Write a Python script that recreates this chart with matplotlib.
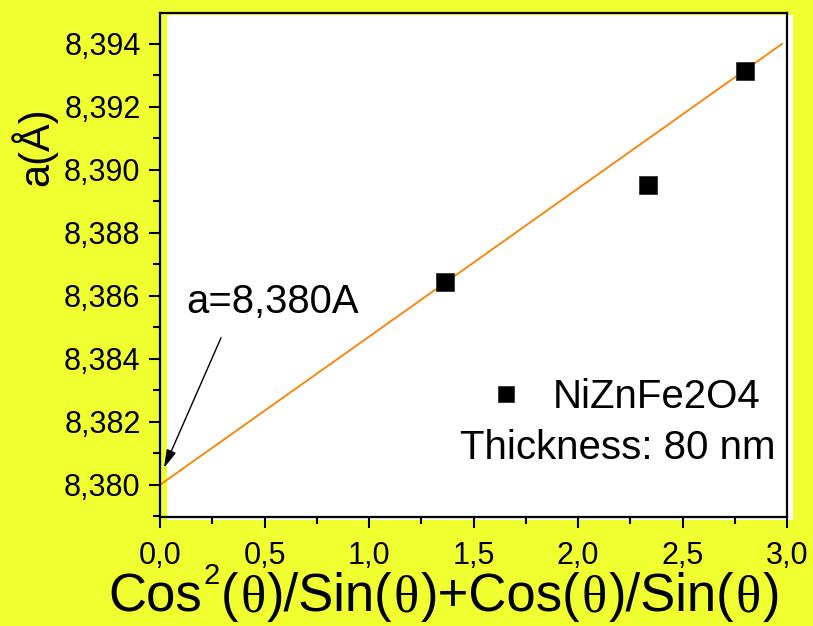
import matplotlib
matplotlib.use("Agg")
import matplotlib.pyplot as plt
from matplotlib.ticker import MultipleLocator, FuncFormatter
from matplotlib.patches import Rectangle

# ---- data ----
x_pts = [1.364, 2.335, 2.799]
a_pts = [8.38644, 8.38952, 8.39314]
fit_x = [0.0, 2.976]
fit_intercept = 8.3800
fit_slope = 0.004704
fit_y = [fit_intercept + fit_slope * v for v in fit_x]

series_label = "NiZnFe2O4"
note_label = "Thickness: 80 nm"
annot_label = "a=8,380A"
arrow_head = (0.019, 8.38054)
arrow_tail = (0.292, 8.38467)
annot_pos = (0.124, 8.38546)

xlim = (0.0, 3.0)
ylim = (8.37898, 8.39498)

# x-axis title pieces: (text, is_serif_symbol, is_superscript)
xlabel_pieces = [("Cos", False, False), ("2", False, True), ("(", False, False),
                 ("θ", True, False), (")/Sin(", False, False), ("θ", True, False),
                 (")+Cos(", False, False), ("θ", True, False), (")/Sin(", False, False),
                 ("θ", True, False), (")", False, False)]

plt.rcParams['font.family'] = ['Liberation Sans', 'DejaVu Sans']

W, H = 813, 626
bg = '#F0FF30'
fig = plt.figure(figsize=(W/100, H/100), dpi=100, facecolor=bg)
L, R, B, T = 160/W, 787/W, 1-517/H, 1-13/H
# offset white plot area (as in Origin export)
fig.patches.append(Rectangle((167/W, 1-520/H), (793-167)/W, (520-15)/H,
                             transform=fig.transFigure, facecolor='white',
                             edgecolor='none', zorder=-5))
ax = fig.add_axes([L, B, R-L, T-B])
ax.set_facecolor('none')

ax.plot(fit_x, fit_y, color='#FF8000', lw=1.3, zorder=2)
ax.plot(x_pts, a_pts, ls='none', marker='s', ms=13, color='black',
        mec='#333333', mew=0.6, label=series_label, zorder=3)

ax.set_xlim(*xlim)
ax.set_ylim(*ylim)
ax.xaxis.set_major_locator(MultipleLocator(0.5))
ax.xaxis.set_minor_locator(MultipleLocator(0.25))
ax.yaxis.set_major_locator(MultipleLocator(0.002))
ax.yaxis.set_minor_locator(MultipleLocator(0.001))
ax.xaxis.set_major_formatter(FuncFormatter(lambda v, p: f"{v:.1f}".replace('.', ',')))
ax.yaxis.set_major_formatter(FuncFormatter(lambda v, p: f"{v:.3f}".replace('.', ',')))

ax.tick_params(which='both', direction='out', top=False, right=False, width=1.5, color='black')
ax.tick_params(which='major', length=8, labelsize=22)
ax.tick_params(which='minor', length=5)
ax.tick_params(axis='x', which='major', pad=9)
ax.tick_params(axis='y', which='major', pad=6)
for s in ax.spines.values():
    s.set_linewidth(1.6)

ax.set_ylabel("a(Å)", fontsize=30)
ax.yaxis.set_label_coords(-0.164, 0.734)

ax.annotate('', xy=arrow_head, xytext=arrow_tail,
            arrowprops=dict(arrowstyle='-|>,head_length=0.55,head_width=0.15',
                            color='black', lw=1.0, mutation_scale=20,
                            shrinkA=0, shrinkB=0))
ax.text(annot_pos[0], annot_pos[1], annot_label, fontsize=28.8, ha='left', va='baseline')

leg = ax.legend(loc='center left', bbox_to_anchor=(0.519, 0.238), frameon=False,
                fontsize=29, handlelength=1.0, handletextpad=0.68, borderpad=0,
                borderaxespad=0, markerscale=0.85)
ax.text(0.981, 0.137, note_label, transform=ax.transAxes, fontsize=29,
        ha='right', va='center')

# ---- x-axis title, composed piece by piece (sans text, serif theta, raised 2) ----
fig.canvas.draw()
renderer = fig.canvas.get_renderer()
main_size, sup_size = 38, 21
x_px, base_px, sup_raise = 108, 611, 27
for txt, serif, sup in xlabel_pieces:
    size = sup_size if sup else main_size
    fam = ['Liberation Serif'] if serif else ['Liberation Sans']
    y_px = base_px - (sup_raise if sup else 0)
    t = fig.text(x_px / W, 1 - y_px / H, txt, fontsize=size, family=fam,
                 ha='left', va='baseline')
    bb = t.get_window_extent(renderer)
    x_px += bb.width + 1.5

fig.savefig('out.png', dpi=100, facecolor=bg)
